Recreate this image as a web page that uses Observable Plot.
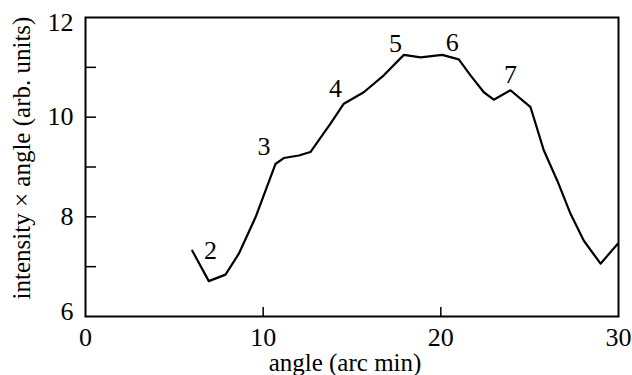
<!DOCTYPE html>
<html>
<head>
<meta charset="utf-8">
<script src="https://cdn.jsdelivr.net/npm/d3@7"></script>
<script src="https://cdn.jsdelivr.net/npm/@observablehq/plot@0.6"></script>
<style>
  html, body { margin: 0; padding: 0; background: white; }
  #chart svg { display: block; }
</style>
</head>
<body>
<div id="chart"></div>
<script>
// Curve: angle (arc min) vs intensity × angle (arb. units)
const angle = [6.01, 6.94, 7.88, 8.63, 9.57, 10.69, 11.16, 12.01, 12.66, 13.51, 13.79, 14.54, 15.66, 16.79, 17.92, 18.86, 20.08, 21.01, 21.67, 22.42, 22.98, 23.92, 25.05, 25.80, 26.55, 27.30, 28.05, 28.99, 29.96];
const intensity = [7.32, 6.71, 6.84, 7.26, 7.99, 9.06, 9.18, 9.23, 9.30, 9.73, 9.87, 10.27, 10.50, 10.84, 11.25, 11.20, 11.25, 11.16, 10.84, 10.50, 10.35, 10.54, 10.20, 9.33, 8.73, 8.06, 7.52, 7.06, 7.46];

// Peak annotations
const peakNames = ["2", "3", "4", "5", "6", "7"];
const peakAngle = [7.04, 10.04, 14.07, 17.45, 20.64, 23.92];
const peakValue = [7.32, 9.40, 10.57, 11.47, 11.50, 10.85];

// Axis ticks
const xTicks = [0, 10, 20, 30];
const xInnerTicks = [10, 20];
const yTicksMid = [8, 10];
const yTickTop = [12];
const yTickBottom = [6];
const yInnerTicks = [7, 8, 9, 10, 11];

const curve = angle.map((a, i) => ({angle: a, value: intensity[i]}));
const peaks = peakNames.map((n, i) => ({name: n, angle: peakAngle[i], value: peakValue[i]}));

const font = "Liberation Serif, Times New Roman, serif";

const chart = Plot.plot({
  width: 632,
  height: 375,
  marginLeft: 85,
  marginRight: 14,
  marginTop: 17,
  marginBottom: 59,
  style: {fontFamily: font, fontSize: "26px", color: "black", background: "white"},
  x: {domain: [0, 30]},
  y: {domain: [6, 12]},
  marks: [
    Plot.ruleY(yInnerTicks, {x1: 0, x2: 0.62, stroke: "black", strokeWidth: 1.5}),
    Plot.ruleX(xInnerTicks, {y1: 6, y2: 6.18, stroke: "black", strokeWidth: 1.5}),
    Plot.frame({stroke: "black", strokeWidth: 2}),
    Plot.axisX({ticks: xTicks, tickFormat: "d", tickSize: 0, tickPadding: 11, label: null, fontSize: 26}),
    Plot.axisY({ticks: yTicksMid, tickFormat: "d", tickSize: 0, tickPadding: 12, label: null, fontSize: 26}),
    Plot.axisY({ticks: yTickTop, tickFormat: "d", tickSize: 0, tickPadding: 12, label: null, fontSize: 26, dy: 5}),
    Plot.axisY({ticks: yTickBottom, tickFormat: "d", tickSize: 0, tickPadding: 12, label: null, fontSize: 26, dy: -5}),
    Plot.line(curve, {x: "angle", y: "value", stroke: "black", strokeWidth: 2.2, strokeLinejoin: "round"}),
    Plot.text(peaks, {x: "angle", y: "value", text: "name", fontSize: 26, fill: "black"}),
    Plot.text(["angle (arc min)"], {frameAnchor: "bottom", textAnchor: "middle", dx: -7, dy: 46, lineAnchor: "middle", fontSize: 25, fill: "black"}),
    Plot.text(["intensity × angle (arb. units)"], {frameAnchor: "left", textAnchor: "middle", dx: -64, dy: -9, rotate: -90, lineAnchor: "middle", fontSize: 25, fill: "black"})
  ]
});

document.getElementById("chart").appendChild(chart);
</script>
</body>
</html>
